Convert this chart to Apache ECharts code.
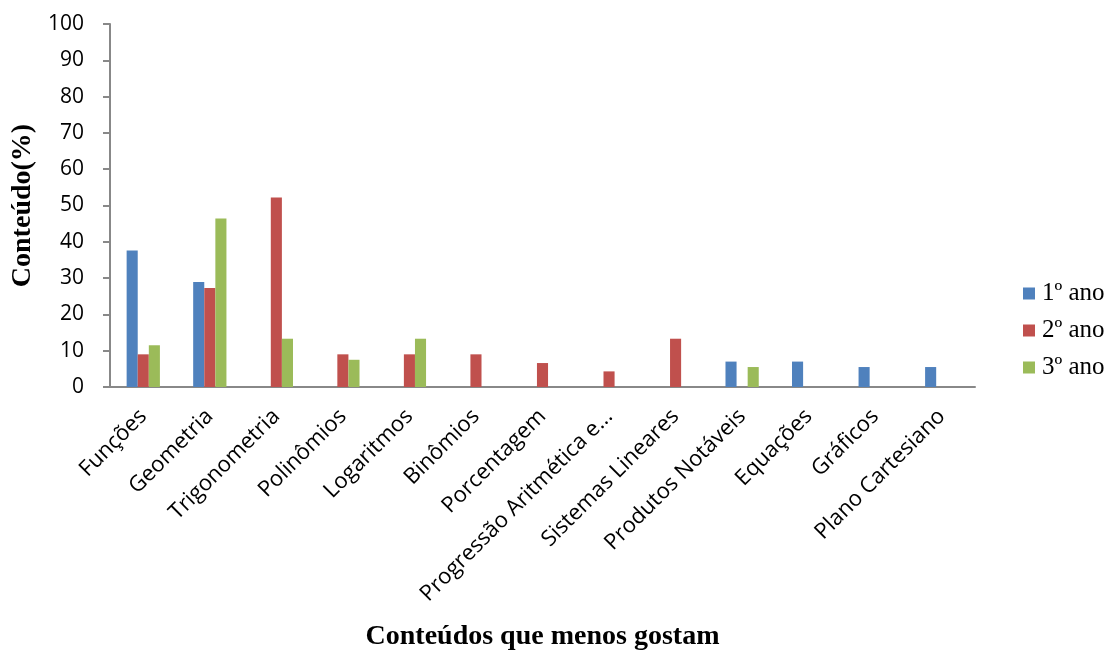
<!DOCTYPE html>
<html><head><meta charset="utf-8">
<script src="https://cdn.jsdelivr.net/npm/echarts@6/dist/echarts.min.js"></script>
<style>html,body{margin:0;padding:0;background:#fff}#c{width:1110px;height:650px}</style>
</head><body><div id="c"></div>
<script>
const categories = ["Funções","Geometria","Trigonometria","Polinômios","Logaritmos","Binômios","Porcentagem","Progressão Aritmética e...","Sistemas Lineares","Produtos Notáveis","Equações","Gráficos","Plano Cartesiano"];
const ano1 = [37.6, 28.9, null, null, null, null, null, null, null, 7.0, 7.0, 5.5, 5.5];
const ano2 = [9.0, 27.3, 52.2, 9.0, 9.0, 9.0, 6.6, 4.3, 13.3, null, null, null, null];
const ano3 = [11.5, 46.4, 13.3, 7.5, 13.3, null, null, null, null, 5.5, null, null, null];
const seriesNames = ["1º ano","2º ano","3º ano"];
const colors = ["#4F81BD","#C0504D","#9BBB59"];
const yTicks = {min:0, max:100, interval:10};

const chart = echarts.init(document.getElementById('c'));
const data = [ano1, ano2, ano3];
chart.setOption({
  animation:false,
  grid:{left:110, right:135, top:24, bottom:263, containLabel:false, outerBoundsMode:'none'},
  legend:{orient:'vertical', left:1018, top:276, itemWidth:12, itemHeight:12, itemGap:12,
    textStyle:{fontFamily:'Liberation Serif', fontSize:25, color:'#000', padding:[0,0,0,2]},
    data:seriesNames.map(n=>({name:n, icon:'rect'}))},
  xAxis:{type:'category', data:categories,
    name:'Conteúdos que menos gostam', nameLocation:'middle', nameGap:236,
    nameTextStyle:{fontFamily:'Liberation Serif', fontWeight:'bold', fontSize:28, color:'#000'},
    axisLine:{lineStyle:{color:'#888', width:2}}, axisTick:{show:false},
    axisLabel:{rotate:45, interval:0, fontFamily:'Open Sans', fontSize:22, color:'#000', margin:26}},
  yAxis:{type:'value', min:yTicks.min, max:yTicks.max, interval:yTicks.interval,
    name:'Conteúdo(%)', nameLocation:'middle', nameGap:68, nameRotate:90,
    nameTextStyle:{fontFamily:'Liberation Serif', fontWeight:'bold', fontSize:28, color:'#000'},
    axisLine:{show:true, lineStyle:{color:'#888', width:2}},
    axisTick:{show:true, inside:false, length:7, lineStyle:{color:'#888', width:2}},
    splitLine:{show:false},
    axisLabel:{fontFamily:'Open Sans', fontSize:21, color:'#000', margin:26}},
  series:seriesNames.map((n,i)=>({name:n, type:'bar', data:data[i], barGap:'0%', barCategoryGap:'50%',
    itemStyle:{color:colors[i]}}))
});
</script></body></html>
